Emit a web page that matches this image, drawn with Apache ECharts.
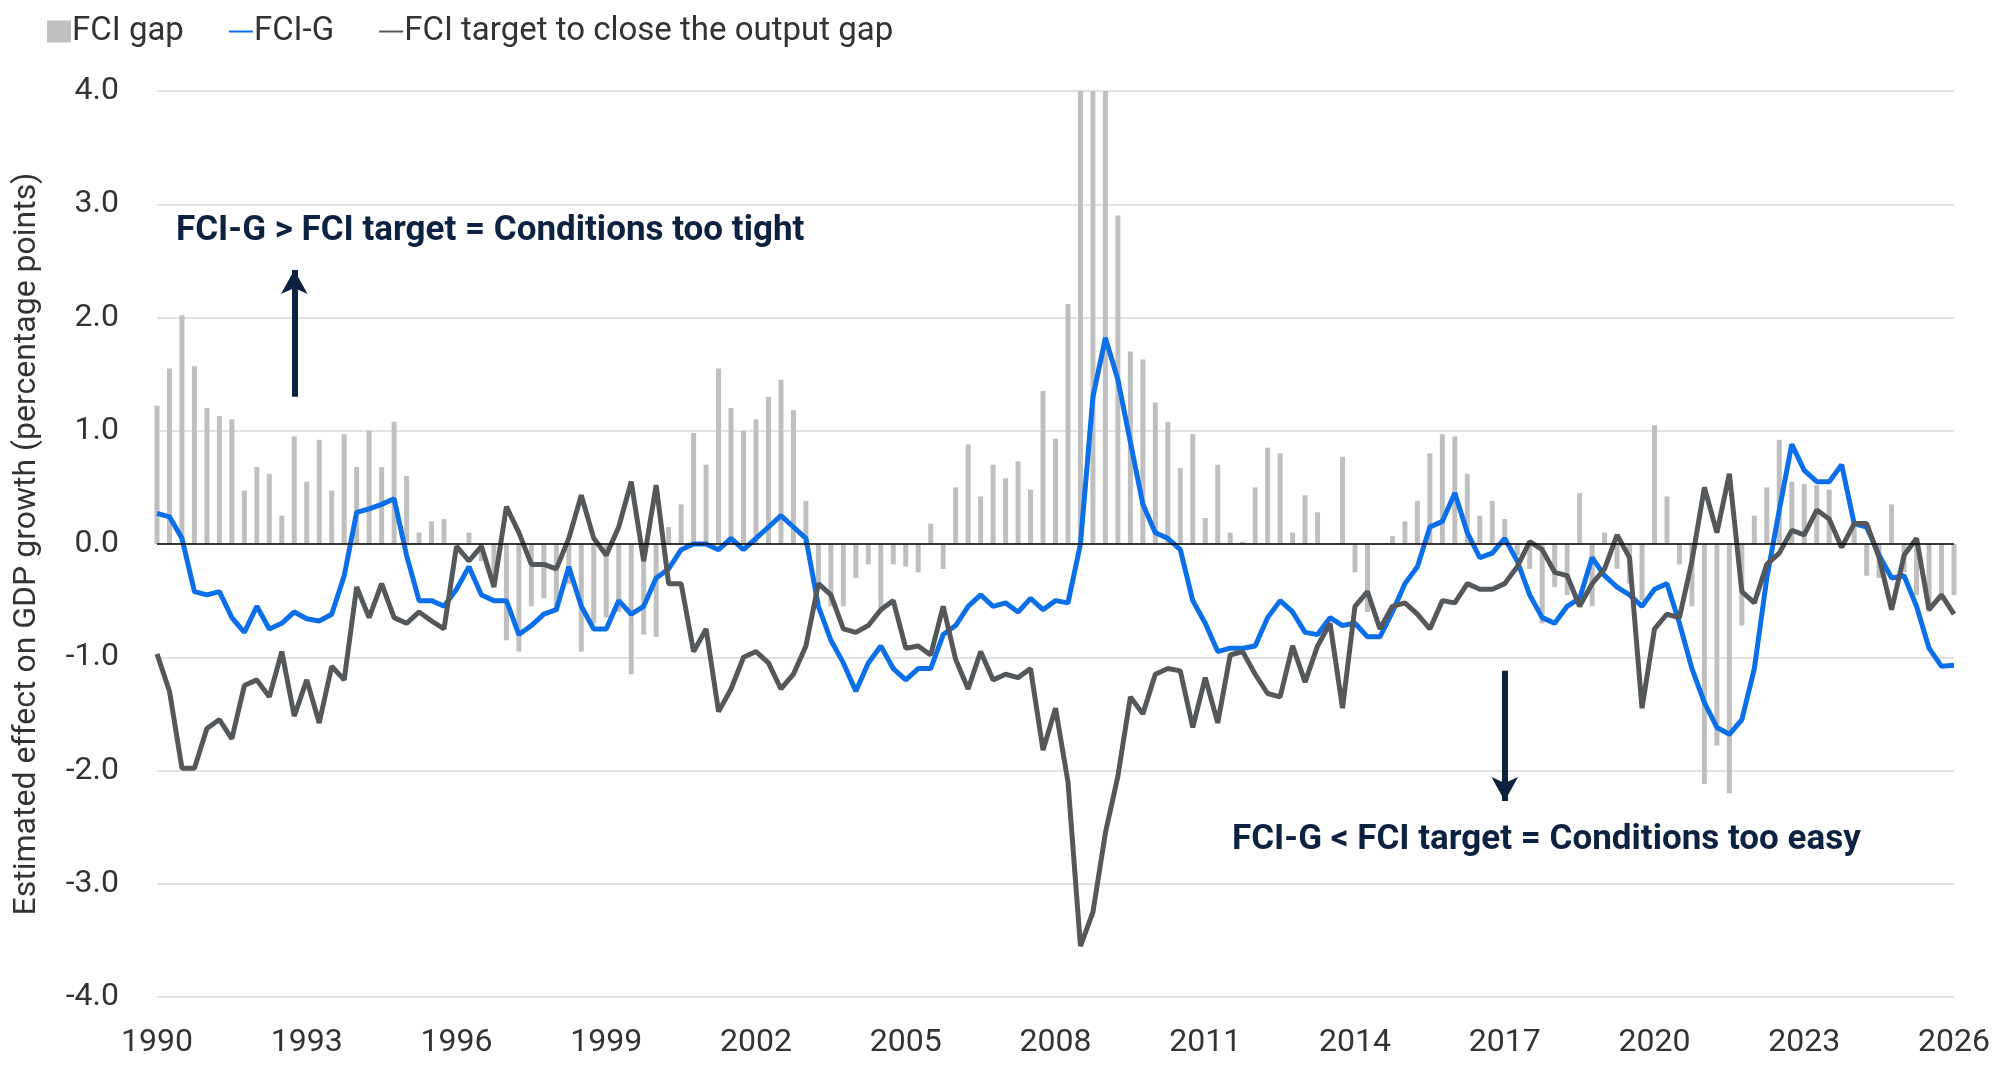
<!DOCTYPE html>
<html><head><meta charset="utf-8">
<script src="https://cdn.jsdelivr.net/npm/echarts@6/dist/echarts.min.js"></script>
<style>html,body{margin:0;padding:0;background:#fff}#c{width:2000px;height:1081px}</style>
</head><body><div id="c"></div>
<script>
const startYear = 1990;
const categories = [];
for (let i = 0; i < 145; i++) categories.push((startYear + Math.floor(i / 4)) + ' Q' + (i % 4 + 1));
const yTicks = [-4, -3, -2, -1, 0, 1, 2, 3, 4];

const fciGap = [
1.22,1.55,2.02,1.57, 1.20,1.13,1.10,0.47, 0.68,0.62,0.25,0.95, 0.55,0.92,0.47,0.97,
0.68,1.00,0.68,1.08, 0.60,0.10,0.20,0.22, 0.00,0.10,-0.15,-0.35, -0.85,-0.95,-0.55,-0.48,
-0.60,-0.35,-0.95,-0.70, -0.65,-0.60,-1.15,-0.80, -0.82,0.15,0.35,0.98, 0.70,1.55,1.20,1.00,
1.10,1.30,1.45,1.18, 0.38,-0.35,-0.55,-0.55, -0.30,-0.18,-0.60,-0.18, -0.20,-0.25,0.18,-0.22,
0.50,0.88,0.42,0.70, 0.58,0.73,0.48,1.35, 0.93,2.12,4.60,4.60, 4.60,2.90,1.70,1.63,
1.25,1.08,0.67,0.97, 0.23,0.70,0.10,0.02, 0.50,0.85,0.80,0.10, 0.43,0.28,0.00,0.77,
-0.25,-0.60,0.00,0.07, 0.20,0.38,0.80,0.97, 0.95,0.62,0.25,0.38, 0.22,-0.10,-0.22,-0.70,
-0.38,-0.45,0.45,-0.55, 0.10,-0.22,-0.35,-0.50, 1.05,0.42,-0.18,-0.55, -2.12,-1.78,-2.20,-0.72,
0.25,0.50,0.92,0.55, 0.53,0.52,0.48,0.00, 0.15,-0.28,-0.30,0.35, -0.25,-0.45,-0.60,-0.50,
-0.45];
const fciG = [
0.27,0.24,0.05,-0.42, -0.45,-0.42,-0.65,-0.78, -0.55,-0.75,-0.70,-0.60, -0.66,-0.68,-0.62,-0.28,
0.28,0.31,0.35,0.40, -0.10,-0.50,-0.50,-0.55, -0.40,-0.20,-0.45,-0.50, -0.50,-0.80,-0.72,-0.62,
-0.58,-0.20,-0.55,-0.75, -0.75,-0.50,-0.62,-0.55, -0.30,-0.22,-0.05,0.00, 0.00,-0.05,0.05,-0.05,
0.05,0.15,0.25,0.15, 0.05,-0.55,-0.85,-1.05, -1.30,-1.05,-0.90,-1.10, -1.20,-1.10,-1.10,-0.80,
-0.72,-0.55,-0.45,-0.55, -0.52,-0.60,-0.48,-0.58, -0.50,-0.52,0.00,1.30, 1.82,1.45,0.90,0.35,
0.10,0.05,-0.05,-0.50, -0.70,-0.95,-0.92,-0.92, -0.90,-0.65,-0.50,-0.60, -0.78,-0.80,-0.65,-0.72,
-0.70,-0.82,-0.82,-0.60, -0.35,-0.20,0.15,0.20, 0.45,0.10,-0.12,-0.08, 0.05,-0.15,-0.45,-0.65,
-0.70,-0.55,-0.48,-0.12, -0.28,-0.38,-0.45,-0.55, -0.40,-0.35,-0.70,-1.10, -1.40,-1.62,-1.68,-1.55,
-1.10,-0.30,0.30,0.88, 0.65,0.55,0.55,0.70, 0.18,0.15,-0.10,-0.30, -0.28,-0.55,-0.92,-1.08,
-1.07];
const fciTarget = [
-0.97,-1.30,-1.98,-1.98, -1.63,-1.55,-1.72,-1.25, -1.20,-1.35,-0.95,-1.52, -1.20,-1.58,-1.08,-1.20,
-0.38,-0.65,-0.35,-0.65, -0.70,-0.60,-0.68,-0.75, -0.02,-0.15,-0.02,-0.38, 0.33,0.10,-0.18,-0.18,
-0.22,0.05,0.43,0.05, -0.10,0.15,0.55,-0.15, 0.52,-0.35,-0.35,-0.95, -0.75,-1.48,-1.28,-1.00,
-0.95,-1.05,-1.28,-1.15, -0.90,-0.35,-0.45,-0.75, -0.78,-0.72,-0.58,-0.50, -0.92,-0.90,-0.98,-0.55,
-1.02,-1.28,-0.95,-1.20, -1.15,-1.18,-1.10,-1.82, -1.45,-2.10,-3.55,-3.25, -2.55,-2.05,-1.35,-1.50,
-1.15,-1.10,-1.12,-1.62, -1.18,-1.58,-0.98,-0.95, -1.15,-1.32,-1.35,-0.90, -1.22,-0.90,-0.70,-1.45,
-0.55,-0.42,-0.75,-0.55, -0.52,-0.62,-0.75,-0.50, -0.52,-0.35,-0.40,-0.40, -0.35,-0.20,0.02,-0.05,
-0.25,-0.28,-0.55,-0.35, -0.22,0.08,-0.12,-1.45, -0.75,-0.62,-0.65,-0.15, 0.50,0.10,0.62,-0.42,
-0.52,-0.18,-0.08,0.12, 0.08,0.30,0.22,-0.03, 0.18,0.18,-0.12,-0.58, -0.10,0.05,-0.58,-0.45,
-0.62];

const navy = '#0d2240';
const chart = echarts.init(document.getElementById('c'));
chart.setOption({
  animation: false,
  textStyle: { fontFamily: 'Roboto' },
  legend: {
    left: 42, top: 10, itemGap: 44, itemWidth: 24, itemHeight: 22,
    textStyle: { fontSize: 33, color: '#333', fontFamily: 'Roboto', padding: [0, 0, 0, -4] },
    data: [
      { name: 'FCI gap', icon: 'rect' },
      { name: 'FCI-G', itemStyle: { opacity: 0 } },
      { name: 'FCI target to close the output gap', itemStyle: { opacity: 0 } }
    ]
  },
  grid: { left: 157, right: 46, top: 91, bottom: 84 },
  xAxis: {
    type: 'category', data: categories, boundaryGap: false,
    axisLine: { show: false, onZero: false }, axisTick: { show: false },
    axisLabel: { interval: 11, fontSize: 32, color: '#333', margin: 30,
      formatter: v => v.slice(0, 4) },
    splitLine: { show: false }
  },
  yAxis: {
    type: 'value', min: -4, max: 4, interval: 1,
    name: 'Estimated effect on GDP growth (percentage points)',
    nameLocation: 'middle', nameGap: 114, nameRotate: 90,
    nameTextStyle: { fontSize: 32, color: '#333' },
    axisLabel: { fontSize: 32, color: '#333', margin: 38, formatter: v => v.toFixed(1) },
    axisLine: { show: false }, axisTick: { show: false },
    splitLine: { lineStyle: { color: '#d9d9d9', width: 1.5 } }
  },
  series: [
    { name: 'FCI gap', type: 'bar', data: fciGap, barWidth: 5, clip: true,
      itemStyle: { color: '#bfbfbf' },
      markLine: { silent: true, symbol: 'none', label: { show: false },
        lineStyle: { color: '#000', width: 1.5, type: 'solid' },
        data: [{ yAxis: 0 }] } },
    { name: 'FCI-G', type: 'line', data: fciG, symbol: 'none',
      lineStyle: { color: '#0a6fe8', width: 5 }, itemStyle: { color: '#0a6fe8' } },
    { name: 'FCI target to close the output gap', type: 'line', data: fciTarget, symbol: 'none',
      lineStyle: { color: '#54585a', width: 5 }, itemStyle: { color: '#54585a' },
      markLine: { silent: true, symbol: ['none', 'arrow'], symbolSize: [20, 24], label: { show: false },
        lineStyle: { color: navy, width: 6, type: 'solid' },
        data: [
          [{ coord: [categories[11], 1.3] }, { coord: [categories[11], 2.42] }],
          [{ coord: [categories[108], -1.12] }, { coord: [categories[108], -2.27] }]
        ] } }
  ],
  graphic: [
    { type: 'text', left: 176, top: 214, style: { text: 'FCI-G > FCI target = Conditions too tight',
      fontSize: 35, fontWeight: 'bold', fill: navy, fontFamily: 'Roboto' } },
    { type: 'text', left: 1232, top: 823, style: { text: 'FCI-G < FCI target = Conditions too easy',
      fontSize: 35, fontWeight: 'bold', fill: navy, fontFamily: 'Roboto' } }
  ]
});
</script></body></html>
